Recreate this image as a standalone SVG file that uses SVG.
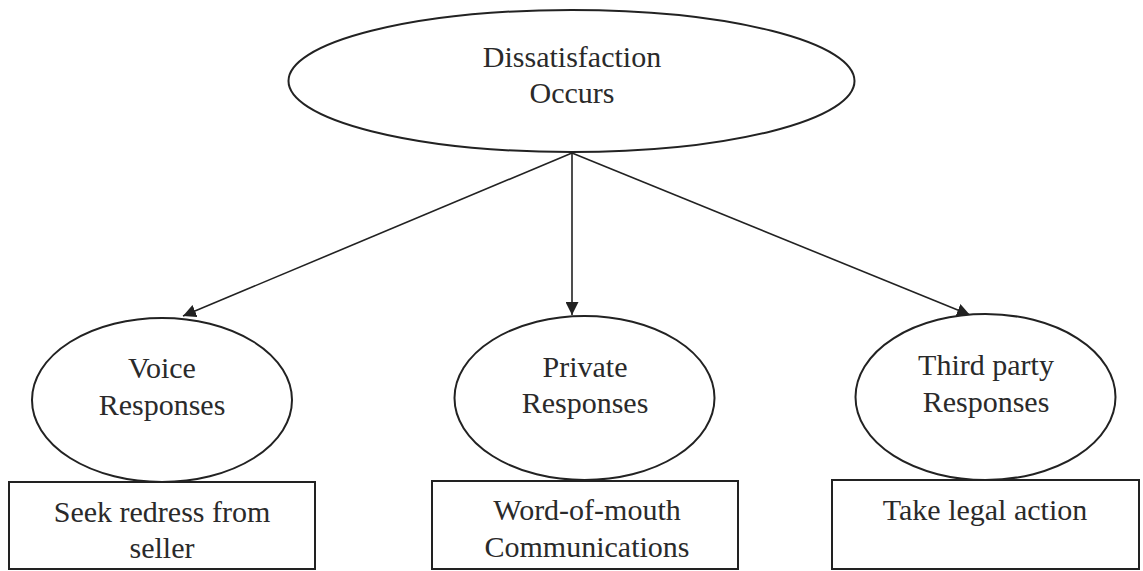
<svg xmlns="http://www.w3.org/2000/svg" width="1143" height="571" viewBox="0 0 1143 571">
<defs>
<marker id="arr" viewBox="0 0 10 10" refX="10" refY="5" markerWidth="13" markerHeight="13" markerUnits="userSpaceOnUse" orient="auto">
<path d="M0,0 L10,5 L0,10 z" fill="#222"/>
</marker>
<style>
.shape{fill:#fff;stroke:#222;stroke-width:2}
.conn{stroke:#222;stroke-width:1.6;fill:none}
text{font-family:"Liberation Serif","Times New Roman",serif;font-size:30px;fill:#2a2a2a;text-anchor:middle}
</style>
</defs>
<rect width="1143" height="571" fill="#fff"/>
<g id="connectors">
<line class="conn" x1="572" y1="153" x2="183" y2="316" marker-end="url(#arr)"/>
<line class="conn" x1="572" y1="153" x2="572" y2="315" marker-end="url(#arr)"/>
<line class="conn" x1="572" y1="153" x2="970" y2="315" marker-end="url(#arr)"/>
</g>
<g id="dissatisfaction">
<ellipse class="shape" cx="571.5" cy="81" rx="283" ry="71"/>
<text x="572" y="67">Dissatisfaction</text>
<text x="572" y="103">Occurs</text>
</g>
<g id="voice">
<ellipse class="shape" cx="162" cy="400" rx="130" ry="82"/>
<text x="162" y="378">Voice</text>
<text x="162" y="415">Responses</text>
</g>
<g id="private">
<ellipse class="shape" cx="584.5" cy="398" rx="130" ry="82"/>
<text x="585" y="377">Private</text>
<text x="585" y="413">Responses</text>
</g>
<g id="thirdparty">
<ellipse class="shape" cx="985.5" cy="397" rx="130" ry="83"/>
<text x="986" y="375">Third party</text>
<text x="986" y="412">Responses</text>
</g>
<g id="seek">
<rect class="shape" x="9" y="482" width="306" height="87"/>
<text x="162" y="522">Seek redress from</text>
<text x="162" y="558">seller</text>
</g>
<g id="wom">
<rect class="shape" x="432" y="481" width="306" height="88"/>
<text x="587" y="520">Word-of-mouth</text>
<text x="587" y="557">Communications</text>
</g>
<g id="legal">
<rect class="shape" x="832" y="480" width="307" height="89"/>
<text x="985" y="520">Take legal action</text>
</g>
</svg>
